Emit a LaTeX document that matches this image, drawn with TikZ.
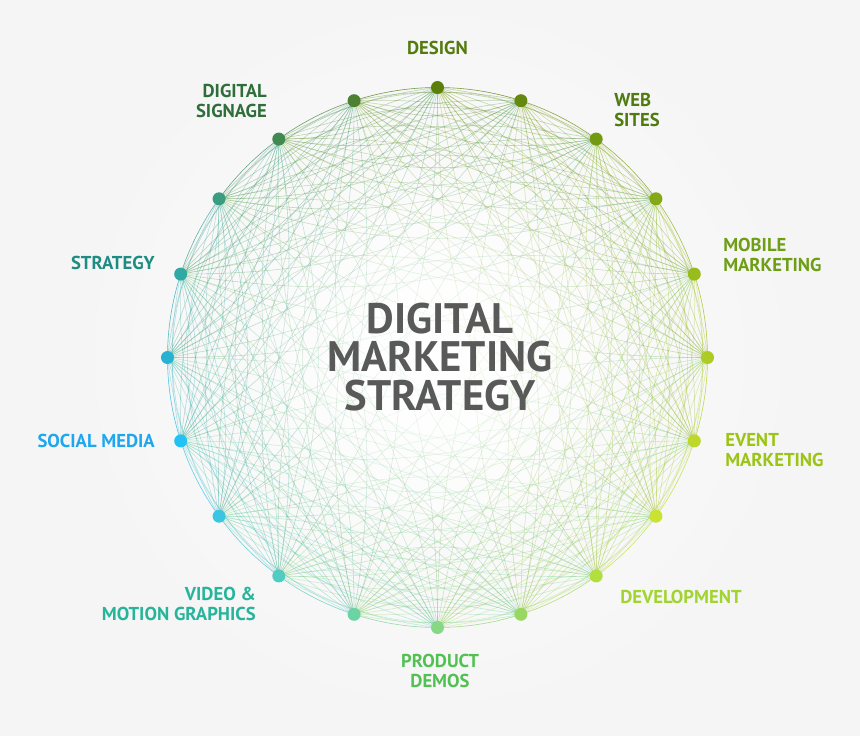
\documentclass[tikz,border=0pt]{standalone}
\usepackage{fontspec}
\setmainfont{PT Sans}
\usetikzlibrary{backgrounds,fadings}
\definecolor{c0}{HTML}{5A7F0A}
\definecolor{c1}{HTML}{64890E}
\definecolor{c2}{HTML}{729A12}
\definecolor{c3}{HTML}{84A916}
\definecolor{c4}{HTML}{98BC1C}
\definecolor{c5}{HTML}{ADCB22}
\definecolor{c6}{HTML}{BDD82A}
\definecolor{c7}{HTML}{CAE232}
\definecolor{c8}{HTML}{B2DE40}
\definecolor{c9}{HTML}{98D862}
\definecolor{c10}{HTML}{86D886}
\definecolor{c11}{HTML}{6CD3A4}
\definecolor{c12}{HTML}{52CCC2}
\definecolor{c13}{HTML}{3AC6E2}
\definecolor{c14}{HTML}{22C2F4}
\definecolor{c15}{HTML}{28B2D2}
\definecolor{c16}{HTML}{32A8A2}
\definecolor{c17}{HTML}{3A9C80}
\definecolor{c18}{HTML}{408A52}
\definecolor{c19}{HTML}{4C8232}
\definecolor{bggray}{HTML}{F5F5F5}
\definecolor{titlegray}{HTML}{595959}
\definecolor{tdesign}{HTML}{557A0E}
\definecolor{tsignage}{HTML}{2F6E3A}
\definecolor{tweb}{HTML}{4F7A10}
\definecolor{tmobile}{HTML}{6E9E14}
\definecolor{tevent}{HTML}{9CC414}
\definecolor{tdevel}{HTML}{A2D430}
\definecolor{tdemos}{HTML}{52C152}
\definecolor{tvideo}{HTML}{26B59A}
\definecolor{tsocial}{HTML}{1DA7EF}
\definecolor{tstrategy}{HTML}{1E8C82}
\tikzstyle{dot}=[circle, minimum size=9.75pt, inner sep=0pt]
\tikzstyle{link}=[line width=0.45pt, opacity=0.36]
\tikzstyle{tag}=[font=\bfseries\fontsize{14}{15}\selectfont, inner sep=0pt]
\tikzstyle{title}=[font=\bfseries\fontsize{32}{29}\selectfont, align=center, inner sep=0pt]
\tikzfading[name=centerglow, inner color=transparent!0, outer color=transparent!100]

\begin{document}
\begin{tikzpicture}[x=0.75pt, y=0.75pt]
	\useasboundingbox (-437.5,-378.5) rectangle (422.5,357.5);

	% the twenty dots on the ring
	\foreach \i in {0,...,19}
		\node[dot, fill=c\i] (d\i) at ({90-18*\i}:270) {};

	\begin{scope}[on background layer]
		\fill[bggray] (-437.5,-378.5) rectangle (422.5,357.5);
		\fill[white, path fading=centerglow] (0,0) circle (380);
		% ring
		\foreach \i in {0,...,19}{
			\pgfmathtruncatemacro\j{mod(\i+1,20)}
			\draw[link, opacity=0.8, draw=c\i!50!c\j] (d\i.center) arc[start angle={90-18*\i}, end angle={72-18*\i}, radius=270];
		}
		% web of curves
		\foreach \i in {0,...,19}{
			\foreach \k in {2,...,8}{
				\pgfmathtruncatemacro\j{mod(\i+\k,20)}
				\draw[link, draw=c\i!50!c\j] (d\i.center) to[bend right=18] (d\j.center);
			}
			\foreach \k in {3,...,9}{
				\pgfmathtruncatemacro\j{mod(\i+\k,20)}
				\draw[link, draw=c\i!50!c\j] (d\i.center) to[bend left=20] (d\j.center);
			}
		}
		\fill[white, path fading=centerglow, fill opacity=0.9] (0,0) circle (210);
	\end{scope}

	% labels
	\node[tag, text=tdesign] (design) at (0,309.5) {DESIGN};
	\node[tag, text=tsignage, anchor=east, align=right] (signage) at (-170.5,257) {DIGITAL\\SIGNAGE};
	\node[tag, text=tweb, anchor=west, align=left] (web) at (176.5,247.5) {WEB\\SITES};
	\node[tag, text=tmobile, anchor=west, align=left] (mobile) at (285.5,102.5) {MOBILE\\MARKETING};
	\node[tag, text=tevent, anchor=west, align=left] (event) at (287.5,-92.5) {EVENT\\MARKETING};
	\node[tag, text=tdevel, anchor=west] (devel) at (182.5,-239.5) {DEVELOPMENT};
	\node[tag, text=tdemos, align=center] (demos) at (2.5,-313.5) {PRODUCT\\DEMOS};
	\node[tag, text=tvideo, anchor=east, align=right] (video) at (-181.5,-246.5) {VIDEO \&\\MOTION GRAPHICS};
	\node[tag, text=tsocial, anchor=east] (social) at (-282.5,-83.5) {SOCIAL MEDIA};
	\node[tag, text=tstrategy, anchor=east] (strategy) at (-282.5,94.5) {STRATEGY};

	% title
	\node[title, text=titlegray] (title) at (2.5,0.5) {DIGITAL\\MARKETING\\STRATEGY};
\end{tikzpicture}
\end{document}
